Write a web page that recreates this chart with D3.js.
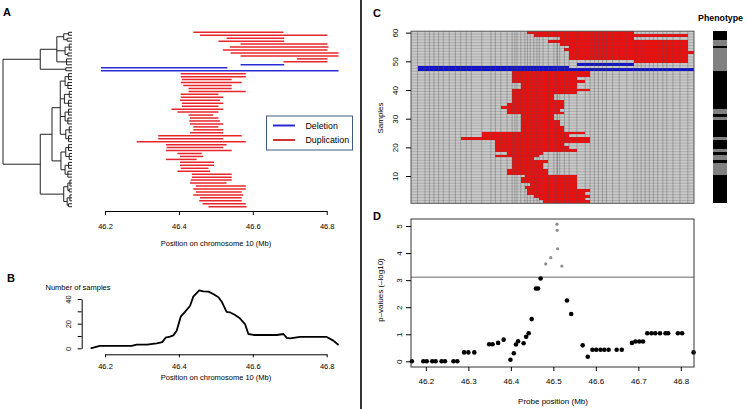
<!DOCTYPE html>
<html><head><meta charset="utf-8">
<script src="https://cdn.jsdelivr.net/npm/d3@7"></script>
<style>body{margin:0;background:#fff;} svg{display:block;font-family:"Liberation Sans",Arial,sans-serif;}</style>
</head><body><svg id="c" width="747" height="409"></svg>
<script>
// ---------------- DATA ----------------
const posTicks = [46.2, 46.4, 46.6, 46.8];
const probeTicks = [46.2, 46.3, 46.4, 46.5, 46.6, 46.7, 46.8];
const countTicks = [0, 10, 20, 30, 40];
const sampleTicks = [10, 20, 30, 40, 50, 60];
const pTicks = [0, 1, 2, 3, 4, 5];

// Panel A: CNV segments in dendrogram order (Mb)
const aStart = [46.439,46.457,46.529,46.507,46.567,46.538,46.519,46.540,46.567,46.719,46.683,46.567,46.189,46.189,
 46.405,46.405,46.408,46.405,46.412,46.426,46.426,46.405,46.405,46.403,46.408,46.408,46.380,46.396,46.426,46.430,
 46.428,46.430,46.439,46.439,46.430,46.344,46.344,46.286,46.365,46.367,46.365,46.396,46.403,46.365,46.403,46.403,
 46.405,46.396,46.435,46.435,46.432,46.430,46.446,46.439,46.446,46.439,46.457,46.455,46.464,46.480];
const aEnd = [46.683,46.802,46.685,46.685,46.802,46.805,46.802,46.832,46.832,46.802,46.802,46.685,46.531,46.832,
 46.581,46.581,46.543,46.570,46.543,46.543,46.581,46.507,46.520,46.511,46.520,46.507,46.520,46.507,46.493,46.507,
 46.511,46.520,46.507,46.520,46.520,46.570,46.520,46.581,46.529,46.520,46.543,46.462,46.466,46.448,46.495,46.495,
 46.480,46.484,46.543,46.543,46.543,46.529,46.581,46.581,46.570,46.574,46.570,46.570,46.581,46.583];
const aType = aStart.map((d, i) => (i === 11 || i === 12 || i === 13) ? "Deletion" : "Duplication");

// dendrogram (merge heights, leaves = row index)
const g_ = (h, ...c) => ({h, c});
const dendro = g_(1,
  g_(0.46,
    g_(0.22,
      g_(0.12, g_(0.05, 0, 1), g_(0.07, 2, 3)),
      g_(0.10, g_(0.04, 4, 5, 6), g_(0.06, 7, 8)),
      g_(0.08, 9, 10, 11)),
    g_(0.09, 12, 13)),
  g_(0.46,
    g_(0.29,
      g_(0.17,
        g_(0.10, g_(0.05, 14, 15, 16), g_(0.06, 17, 18, 19)),
        g_(0.11, g_(0.04, 20, 21, 22), g_(0.05, 23, 24, 25)),
        g_(0.10, g_(0.05, 26, 27, 28), g_(0.06, 29, 30, 31)),
        g_(0.09, g_(0.04, 32, 33, 34), g_(0.05, 35, 36, 37))),
      g_(0.16,
        g_(0.09, g_(0.05, 38, 39, 40), g_(0.04, 41, 42, 43)),
        g_(0.10, g_(0.05, 44, 45, 46), g_(0.06, 47, 48, 49)))),
    g_(0.12,
      g_(0.06, g_(0.03, 50, 51, 52), g_(0.04, 53, 54)),
      g_(0.07, g_(0.03, 55, 56, 57), g_(0.05, 58, 59)))));

// Panel B: number of samples along chromosome
const bPos = [46.161,46.186,46.200,46.272,46.286,46.313,46.340,46.355,46.364,46.376,46.385,46.394,46.405,46.417,46.430,46.439,
 46.455,46.466,46.480,46.493,46.507,46.516,46.529,46.538,46.552,46.565,46.579,46.588,46.602,46.638,46.665,46.683,46.692,46.701,
 46.719,46.728,46.800,46.818,46.832];
const bCount = [0,1.9,2,2,3,3,4,5,8.6,9.5,10.5,14.3,25.7,29.7,34.3,41.9,
 47,46.2,46,44,41.4,37.8,29.5,29.2,27,24.3,19.7,11.6,10.8,10.8,10.8,11.6,8.4,8.1,
 8.9,9.2,9.2,6.2,2.7];

// Panel C: segments per sample (1..60)
const cStart = [46.476,46.465,46.453,46.441,46.441,46.433,46.443,46.429,46.429,46.433,
 46.392,46.392,46.402,46.406,46.406,46.406,46.363,46.386,46.363,46.363,
 46.363,46.363,46.280,46.333,46.333,46.421,46.421,46.425,46.421,46.418,
 46.418,46.390,46.390,46.377,46.390,46.406,46.406,46.406,46.406,46.406,
 46.421,46.421,46.406,46.406,46.406,46.406,46.180,46.180,46.557,46.688,
 46.539,46.539,46.539,46.527,46.539,46.516,46.492,46.512,46.453,46.441];
const cEnd = [46.586,46.571,46.586,46.574,46.586,46.555,46.555,46.555,46.555,46.555,
 46.492,46.492,46.476,46.476,46.492,46.453,46.465,46.476,46.555,46.539,
 46.523,46.586,46.586,46.539,46.574,46.527,46.527,46.516,46.516,46.508,
 46.500,46.527,46.516,46.527,46.527,46.527,46.508,46.508,46.555,46.586,
 46.555,46.555,46.574,46.555,46.586,46.586,46.831,46.537,46.688,46.818,
 46.818,46.818,46.831,46.818,46.818,46.818,46.818,46.688,46.818,46.688];
const cType = cStart.map((d, i) => (i >= 46 && i <= 48) ? "Deletion" : "Duplication");
// phenotype per sample (1 = black, 0 = grey)
const phenotype = [1,1,1,1,1,1,1,1,1,1, 0,0,0,0,1,0,0,1,0,1, 1,1,0,1,1,1,1,1,1,0,
 1,0,0,1,1,1,1,1,1,1, 1,1,1,1,1,1,0,0,0,0, 0,0,0,0,1,0,0,1,1,1];

// Panel D: probes and association p-values (-log10)
const probePos = [46.167,46.194,46.202,46.215,46.223,46.237,46.245,46.265,46.274,46.290,46.300,46.314,46.349,46.357,46.370,
 46.383,46.399,46.407,46.412,46.417,46.430,46.436,46.442,46.449,46.459,46.464,46.470,46.482,46.494,46.5085,46.509,46.510,
 46.520,46.532,46.542,46.569,46.581,46.592,46.601,46.611,46.620,46.630,46.649,46.661,46.685,46.693,46.702,46.711,46.721,
 46.731,46.740,46.751,46.764,46.770,46.793,46.803,46.830];
const pValue = [0,0,0,0,0,0,0,0,0,0.33,0.33,0.33,0.63,0.63,0.68,
 0.80,0.06,0.30,0.62,0.74,0.67,0.91,1.04,1.56,2.69,2.69,3.06,3.60,3.83,5.07,4.84,4.16,
 3.52,2.25,1.75,0.59,0.17,0.43,0.43,0.43,0.43,0.43,0.43,0.43,0.68,0.73,0.73,0.73,1.04,
 1.04,1.04,1.04,1.04,1.04,1.04,1.04,0.33];
const threshold = 3.11;

// ---------------- DRAW ----------------
const svg = d3.select("#c");
const colDup = "#e8262b", colDel = "#2b2bd6";

function txt(x, y, s, size, opts = {}) {
  const t = svg.append("text").attr("x", x).attr("y", y).text(s)
    .attr("font-size", size).attr("fill", "#000")
    .attr("text-anchor", opts.anchor || "start")
    .attr("font-weight", opts.bold ? "bold" : "normal");
  if (opts.rot) t.attr("transform", `rotate(-90,${x},${y})`);
  return t;
}
function styleAxis(g, size) {
  g.attr("font-family", null).attr("font-size", null);
  g.selectAll("text").attr("font-size", size).attr("fill", "#000");
  g.selectAll("line,path").attr("stroke", "#000");
}

// Separator
svg.append("line").attr("x1", 361).attr("x2", 361).attr("y1", 0).attr("y2", 409)
  .attr("stroke", "#000").attr("stroke-width", 1.6);

// Panel letters
txt(3, 16, "A", 11, {bold: true});
txt(7, 282, "B", 11, {bold: true});
txt(373, 17, "C", 11, {bold: true});
txt(373, 220, "D", 11, {bold: true});

// ---- Panel A ----
const xA = d3.scaleLinear([46.2, 46.8], [105, 326.7]);
const yA = d3.scaleLinear([0, 59], [32.3, 206.7]);
svg.append("g").selectAll("line").data(d3.range(aStart.length)).join("line")
  .attr("x1", i => xA(aStart[i])).attr("x2", i => xA(aEnd[i]))
  .attr("y1", i => yA(i)).attr("y2", i => yA(i))
  .attr("stroke", i => aType[i] === "Deletion" ? colDel : colDup)
  .attr("stroke-width", 1.5);

// dendrogram
const xDen = d3.scaleLinear([0, 1], [72, 3]);
function lay(n) {
  if (typeof n === "number") return {y: yA(n), h: 0};
  const kids = n.c.map(lay);
  return {y: (kids[0].y + kids[kids.length - 1].y) / 2, h: n.h, kids};
}
const gDen = svg.append("g").attr("stroke", "#222").attr("stroke-width", 1);
function drawDen(n) {
  if (!n.kids) return;
  const x = xDen(n.h);
  gDen.append("line").attr("x1", x).attr("x2", x)
    .attr("y1", n.kids[0].y).attr("y2", n.kids[n.kids.length - 1].y);
  n.kids.forEach(k => {
    gDen.append("line").attr("x1", x).attr("x2", xDen(k.h)).attr("y1", k.y).attr("y2", k.y);
    drawDen(k);
  });
}
drawDen(lay(dendro));

const axA = svg.append("g").attr("transform", "translate(0,211)")
  .call(d3.axisBottom(xA).tickValues(posTicks).tickSize(4).tickPadding(9).tickSizeOuter(0).tickFormat(d3.format(".1f")));
styleAxis(axA, 7.5);
txt(216, 246, "Position on chromosome 10 (Mb)", 7.5, {anchor: "middle"});

// legend
const leg = svg.append("g");
leg.append("rect").attr("x", 266.5).attr("y", 116).attr("width", 86).attr("height", 34)
  .attr("fill", "#fff").attr("stroke", "#3d5a80").attr("stroke-width", 1);
[["Deletion", colDel, 125.5], ["Duplication", "#cc3333", 140]].forEach(([lab, col, y]) => {
  leg.append("line").attr("x1", 273).attr("x2", 295).attr("y1", y).attr("y2", y)
    .attr("stroke", col).attr("stroke-width", 2);
  leg.append("text").attr("x", 305.5).attr("y", y + 3).text(lab).attr("font-size", 8.8).attr("fill", "#000");
});

// ---- Panel B ----
const yB = d3.scaleLinear([0, 40], [348.3, 299]);
svg.append("path").datum(d3.range(bPos.length))
  .attr("d", d3.line().x(i => xA(bPos[i])).y(i => yB(bCount[i])))
  .attr("fill", "none").attr("stroke", "#000").attr("stroke-width", 1.8).attr("stroke-linejoin", "round");
const axBx = svg.append("g").attr("transform", "translate(0,354.3)")
  .call(d3.axisBottom(xA).tickValues(posTicks).tickSize(3).tickPadding(6).tickSizeOuter(0).tickFormat(d3.format(".1f")));
styleAxis(axBx, 7.5);
const axBy = svg.append("g").attr("transform", "translate(81.7,0)")
  .call(d3.axisLeft(yB).tickValues(countTicks).tickSize(4).tickSizeOuter(0).tickFormat(d => d % 20 === 0 ? d : ""));
styleAxis(axBy, 7.5);
axBy.selectAll("text").attr("x", 0).attr("dy", null).attr("text-anchor", "middle")
  .attr("transform", "translate(-10.8,0) rotate(-90)");
txt(216, 379.5, "Position on chromosome 10 (Mb)", 7.5, {anchor: "middle"});
txt(45.5, 290, "Number of samples", 7.5);

// ---- Panel C ----
const xP = d3.scaleLinear([46.165, 46.831], [411, 694]);
const yC = d3.scaleLinear([0.5, 60.5], [203.3, 31.2]);
const [dLo, dHi] = xP.domain();
const edges = [dLo].concat(d3.range(probePos.length - 1).map(j => (probePos[j] + probePos[j + 1]) / 2), [dHi]);
const gC = svg.append("g");
gC.append("rect").attr("x", 411).attr("y", yC(60.5)).attr("width", 283).attr("height", yC(0.5) - yC(60.5))
  .attr("fill", "#c9c9c9");
// segments snapped to probe cells
const cells = d3.range(cStart.length).map(i => {
  const idx = d3.range(probePos.length).filter(j => probePos[j] >= cStart[i] && probePos[j] <= cEnd[i]);
  return {s: i + 1, lo: edges[idx[0]], hi: edges[idx[idx.length - 1] + 1], type: cType[i]};
}).filter(d => d.lo !== undefined);
gC.selectAll("rect.seg").data(cells).join("rect")
  .attr("x", d => xP(d.lo)).attr("width", d => xP(d.hi) - xP(d.lo))
  .attr("y", d => yC(d.s + 0.5)).attr("height", d => yC(d.s - 0.5) - yC(d.s + 0.5))
  .attr("fill", d => d.type === "Deletion" ? "#1010d0" : "#f20d0d")
  .attr("shape-rendering", "crispEdges");
// grid
gC.selectAll("line.v").data(edges.slice(1, -1)).join("line")
  .attr("x1", d => xP(d)).attr("x2", d => xP(d)).attr("y1", yC(60.5)).attr("y2", yC(0.5))
  .attr("stroke", "#505050").attr("stroke-opacity", 0.45).attr("stroke-width", 0.8);
gC.selectAll("line.h").data(d3.range(1, 60)).join("line")
  .attr("x1", 411).attr("x2", 694).attr("y1", d => yC(d + 0.5)).attr("y2", d => yC(d + 0.5))
  .attr("stroke", "#505050").attr("stroke-opacity", 0.4).attr("stroke-width", 0.6);
gC.append("rect").attr("x", 411).attr("y", yC(60.5)).attr("width", 283).attr("height", yC(0.5) - yC(60.5))
  .attr("fill", "none").attr("stroke", "#555").attr("stroke-width", 1);
const axC = svg.append("g").attr("transform", "translate(411,0)")
  .call(d3.axisLeft(yC).tickValues(sampleTicks).tickSize(5).tickSizeOuter(0).tickFormat(d3.format("d")));
axC.select(".domain").remove();
styleAxis(axC, 8);
axC.selectAll("text").attr("x", 0).attr("dy", null).attr("text-anchor", "middle")
  .attr("transform", "translate(-13,0) rotate(-90)");
txt(383, 118, "Samples", 8, {anchor: "middle", rot: true});

// phenotype: black background, grey samples on top
const gPh = svg.append("g").attr("shape-rendering", "crispEdges");
gPh.append("rect").attr("x", 713.3).attr("width", 14).attr("y", yC(60.5)).attr("height", yC(0.5) - yC(60.5))
  .attr("fill", "#000");
gPh.selectAll("rect.g").data(d3.range(phenotype.length).filter(i => !phenotype[i])).join("rect")
  .attr("x", 713.3).attr("width", 14).attr("y", i => yC(i + 1.5)).attr("height", i => yC(i + 0.5) - yC(i + 1.5))
  .attr("fill", "#808080");
txt(720.5, 21, "Phenotype", 8.8, {anchor: "middle", bold: true});

// ---- Panel D ----
const yD = d3.scaleLinear([-0.21, 5.26], [367, 219]);
svg.append("line").attr("x1", 411).attr("x2", 694).attr("y1", yD(threshold)).attr("y2", yD(threshold))
  .attr("stroke", "#9a9a9a").attr("stroke-width", 1.5);
svg.append("g").selectAll("circle").data(d3.range(probePos.length)).join("circle")
  .attr("cx", i => xP(probePos[i])).attr("cy", i => yD(pValue[i]))
  .attr("r", i => pValue[i] > threshold ? 1.6 : 2.3)
  .attr("fill", i => pValue[i] > threshold ? "#8c8c8c" : "#000");
svg.append("rect").attr("x", 411).attr("y", 219).attr("width", 283).attr("height", 148)
  .attr("fill", "none").attr("stroke", "#333").attr("stroke-width", 1);
const axDx = svg.append("g").attr("transform", "translate(0,367)")
  .call(d3.axisBottom(xP).tickValues(probeTicks).tickSize(4).tickPadding(7).tickFormat(d3.format(".1f")));
axDx.select(".domain").remove();
styleAxis(axDx, 8);
const axDy = svg.append("g").attr("transform", "translate(411,0)")
  .call(d3.axisLeft(yD).tickValues(pTicks).tickSize(5).tickFormat(d3.format("d")));
axDy.select(".domain").remove();
styleAxis(axDy, 8);
axDy.selectAll("text").attr("x", 0).attr("dy", null).attr("text-anchor", "middle")
  .attr("transform", "translate(-9,0) rotate(-90)");
txt(383, 290, "p\u2013values (\u2013log10)", 8, {anchor: "middle", rot: true});
txt(553, 404, "Probe position (Mb)", 8, {anchor: "middle"});
</script></body></html>
